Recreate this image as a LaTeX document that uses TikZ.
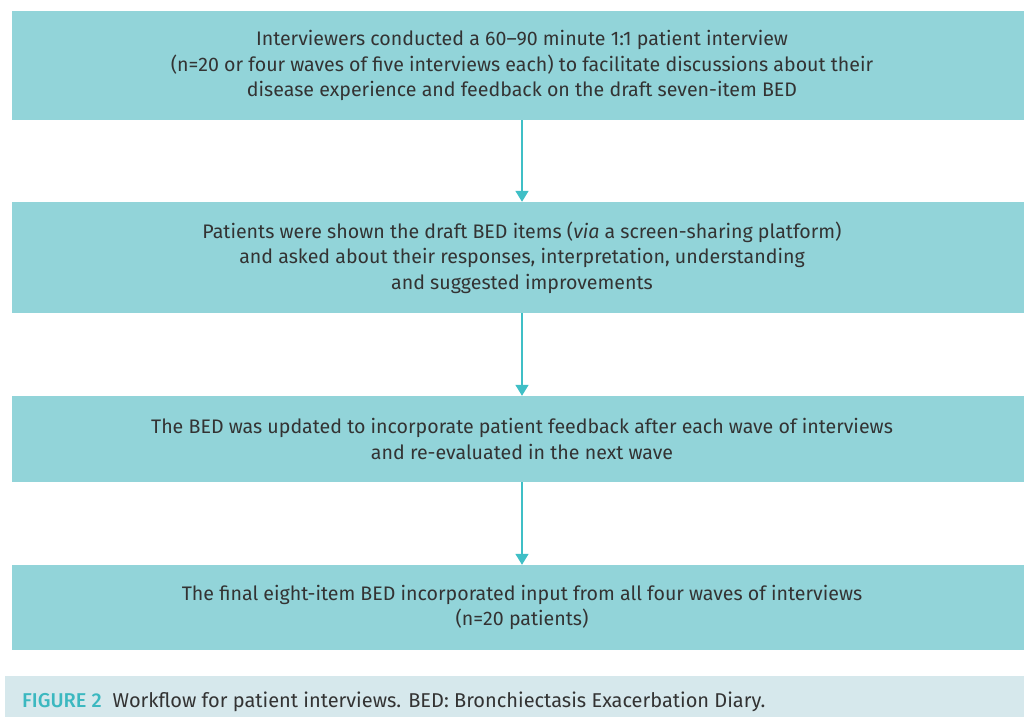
\documentclass[tikz,border=0pt]{standalone}
\usepackage{fontspec}
\setmainfont{Fira Sans}
\newfontfamily\figfont{Fira Sans Medium}
\usetikzlibrary{arrows.meta}
\definecolor{boxfill}{HTML}{92D4D9}
\definecolor{arrowc}{HTML}{3FBFC6}
\definecolor{capfill}{HTML}{D6E8EC}
\definecolor{figc}{HTML}{3BB8C0}
\definecolor{textgrey}{HTML}{333333}
\begin{document}
\begin{tikzpicture}[x=1pt,y=-1pt,
  box/.style={fill=boxfill, minimum width=1020pt, align=center, inner sep=0pt,
    font=\fontsize{19.6}{25.5}\selectfont, text=textgrey},
  flow/.style={draw=arrowc, line width=1.6pt, -{Triangle[width=13pt,length=11pt]}}]
\useasboundingbox (0,0) rectangle (1024,717);
\node[box, minimum height=109pt] (b1) at (522,65.5) {Interviewers conducted a 60--90 minute 1:1 patient interview\\(n=20 or four waves of five interviews each) to facilitate discussions about their\\disease experience and feedback on the draft seven-item BED};
\node[box, minimum height=111pt] (b2) at (522,257.5) {Patients were shown the draft BED items (\textit{via} a screen-sharing platform)\\and asked about their responses, interpretation, understanding\\and suggested improvements};
\node[box, minimum height=86pt] (b3) at (522,439) {The BED was updated to incorporate patient feedback after each wave of interviews\\and re-evaluated in the next wave};
\node[box, minimum height=85pt] (b4) at (522,607.5) {The final eight-item BED incorporated input from all four waves of interviews\\(n=20 patients)};
\draw[flow] (b1) -- (b2);
\draw[flow] (b2) -- (b3);
\draw[flow] (b3) -- (b4);
\fill[capfill] (5,676) rectangle (1024,717);
\node[anchor=base west, inner sep=0pt, font=\fontsize{20}{22}\selectfont, text=textgrey] (cap) at (22,707) {\textcolor{figc}{\figfont FIGURE 2}\hspace{11pt}Workflow for patient interviews. BED: Bronchiectasis Exacerbation Diary.};
\end{tikzpicture}
\end{document}
